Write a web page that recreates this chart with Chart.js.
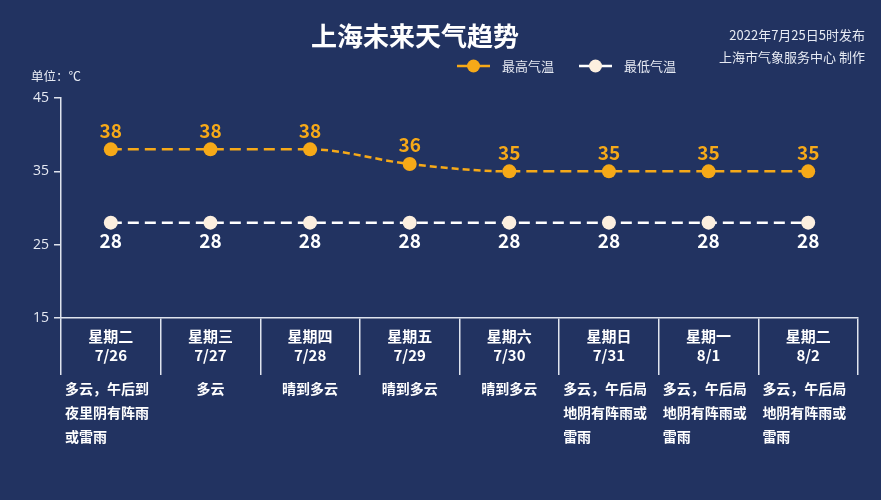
<!DOCTYPE html>
<html><head><meta charset="utf-8">
<script src="https://cdn.jsdelivr.net/npm/chart.js@4/dist/chart.umd.min.js"></script>
<style>html,body{margin:0;padding:0;background:#223361;}#wrap{width:881px;height:500px;}</style>
</head><body><div id="wrap"><canvas id="c" width="881" height="500"></canvas></div>
<script>
const weekdays = ['星期二','星期三','星期四','星期五','星期六','星期日','星期一','星期二'];
const dates = ['7/26','7/27','7/28','7/29','7/30','7/31','8/1','8/2'];
const highTemps = [38, 38, 38, 36, 35, 35, 35, 35];
const lowTemps = [28, 28, 28, 28, 28, 28, 28, 28];
const weather = ['多云，午后到夜里阴有阵雨或雷雨','多云','晴到多云','晴到多云','晴到多云','多云，午后局地阴有阵雨或雷雨','多云，午后局地阴有阵雨或雷雨','多云，午后局地阴有阵雨或雷雨'];
const yTicks = [15, 25, 35, 45];
const seriesNames = ['最高气温','最低气温'];

const FONT = '"Noto Sans CJK SC","Microsoft YaHei",sans-serif';
const ORANGE = '#f6a918';
const WHITE = '#ffffff';
const CREAM = '#fcefdf';
const TXT = '#e6eaf3';

const extras = {
  id: 'extras',
  afterDatasetsDraw(chart) {
    const ctx = chart.ctx;
    const xs = chart.scales.x;
    ctx.save();
    // data labels
    ctx.font = 'bold 19px ' + FONT;
    ctx.textAlign = 'center';
    ctx.textBaseline = 'middle';
    chart.getDatasetMeta(0).data.forEach((p, i) => {
      ctx.fillStyle = ORANGE;
      ctx.fillText(String(highTemps[i]), p.x, p.y - 19);
    });
    chart.getDatasetMeta(1).data.forEach((p, i) => {
      ctx.fillStyle = WHITE;
      ctx.fillText(String(lowTemps[i]), p.x, p.y + 18);
    });
    // weather descriptions
    ctx.font = 'bold 14px ' + FONT;
    ctx.fillStyle = WHITE;
    const cellW = (chart.chartArea.right - chart.chartArea.left) / weekdays.length;
    weather.forEach((w, i) => {
      const cx = xs.getPixelForValue(i);
      const lines = [];
      for (let k = 0; k < w.length; k += 6) lines.push(w.slice(k, k + 6));
      lines.forEach((ln, j) => {
        const y = 389 + j * 24;
        if (lines.length === 1) {
          ctx.textAlign = 'center';
          ctx.fillText(ln, cx, y);
        } else {
          ctx.textAlign = 'left';
          ctx.fillText(ln, cx - cellW / 2 + 4, y);
        }
      });
    });
    // title
    ctx.textAlign = 'center';
    ctx.font = 'bold 26px ' + FONT;
    ctx.fillStyle = WHITE;
    ctx.fillText('上海未来天气趋势', 415, 36);
    // top right
    ctx.textAlign = 'right';
    ctx.font = '13px ' + FONT;
    ctx.fillStyle = TXT;
    ctx.fillText('2022年7月25日5时发布', 865, 35);
    ctx.fillText('上海市气象服务中心 制作', 865, 57);
    // unit
    ctx.textAlign = 'left';
    ctx.font = '12.5px ' + FONT;
    ctx.fillText('单位：℃', 31, 76);
    // legend
    const legs = [{x: 457, c: ORANGE, f: ORANGE}, {x: 579, c: WHITE, f: CREAM}];
    legs.forEach((l, i) => {
      ctx.strokeStyle = l.c;
      ctx.lineWidth = 2.5;
      ctx.setLineDash([]);
      ctx.beginPath();
      ctx.moveTo(l.x, 66);
      ctx.lineTo(l.x + 33, 66);
      ctx.stroke();
      ctx.fillStyle = l.f;
      ctx.beginPath();
      ctx.arc(l.x + 16.5, 66, 6.5, 0, Math.PI * 2);
      ctx.fill();
      ctx.fillStyle = TXT;
      ctx.font = '13px ' + FONT;
      ctx.textAlign = 'left';
      ctx.fillText(seriesNames[i], l.x + 45, 66);
    });
    ctx.restore();
  }
};

new Chart(document.getElementById('c'), {
  type: 'line',
  data: {
    labels: weekdays.map((w, i) => [w, dates[i]]),
    datasets: [
      {
        label: seriesNames[0], data: highTemps,
        borderColor: ORANGE, backgroundColor: ORANGE,
        borderWidth: 2.5, borderDash: [11, 6],
        cubicInterpolationMode: 'monotone',
        segment: { borderDash: c => (c.p0.parsed.y !== c.p1.parsed.y ? [7, 4] : [11, 6]) },
        pointRadius: 7, pointBorderWidth: 0, pointBackgroundColor: ORANGE
      },
      {
        label: seriesNames[1], data: lowTemps,
        borderColor: WHITE, backgroundColor: CREAM,
        borderWidth: 2.5, borderDash: [11, 6],
        pointRadius: 7, pointBorderWidth: 0, pointBackgroundColor: CREAM
      }
    ]
  },
  options: {
    responsive: false,
    animation: false,
    devicePixelRatio: 1,
    layout: { padding: { left: 0, top: 98, right: 23, bottom: 0 } },
    plugins: { legend: { display: false }, title: { display: false }, tooltip: { enabled: false } },
    scales: {
      x: {
        offset: true,
        afterFit: s => { s.height = 182; },
        border: { display: true, color: '#dfe4ee', width: 1.5 },
        grid: { offset: true, drawOnChartArea: false, drawTicks: true, tickLength: 57, color: '#dfe4ee', lineWidth: 1.5 },
        ticks: { color: WHITE, font: { family: FONT, size: 15, weight: 'bold', lineHeight: 1.25 }, padding: -48, maxRotation: 0, autoSkip: false }
      },
      y: {
        min: 15, max: 45,
        afterFit: s => { s.width = 61; },
        afterBuildTicks: s => { s.ticks = yTicks.map(v => ({ value: v })); },
        border: { display: true, color: '#dfe4ee', width: 1.5 },
        grid: { drawOnChartArea: false, drawTicks: true, tickLength: 7, color: '#dfe4ee', lineWidth: 1.5 },
        ticks: { color: TXT, font: { family: '"Open Sans", ' + FONT, size: 14 }, padding: 5 }
      }
    }
  },
  plugins: [extras]
});
</script></body></html>
